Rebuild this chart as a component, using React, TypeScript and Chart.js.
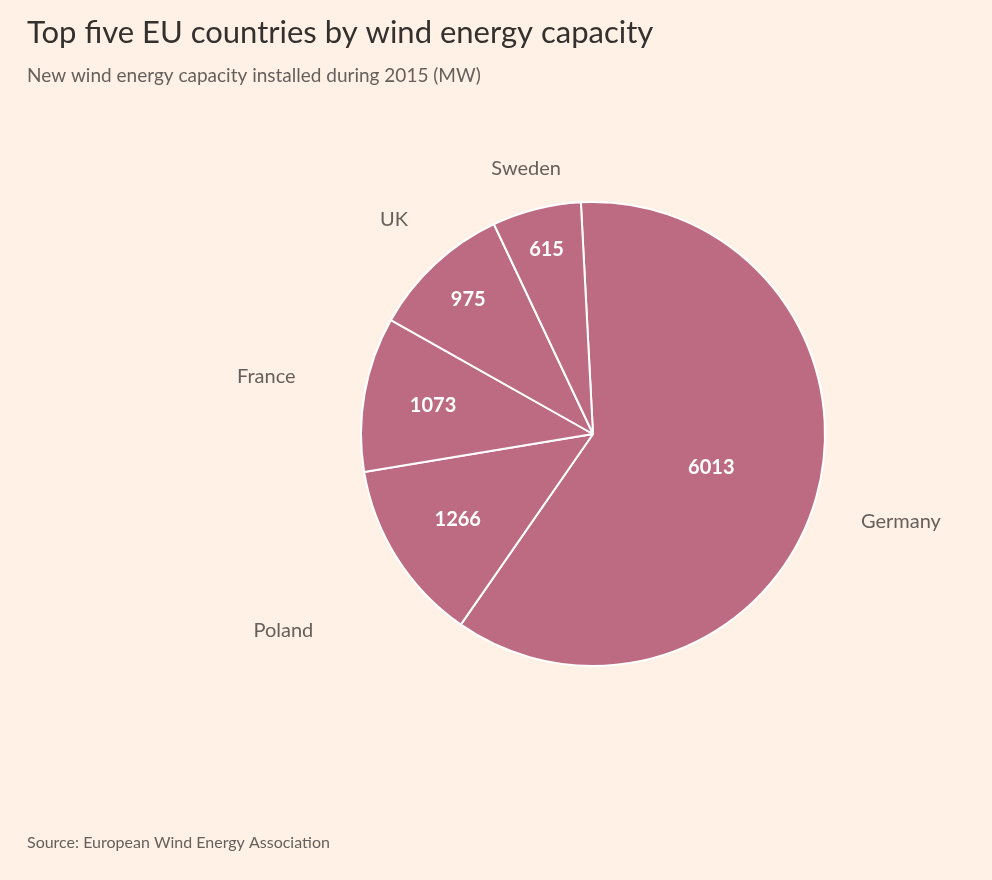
import React, { useEffect, useRef } from "react";
import { Chart, registerables } from "chart.js";
Chart.register(...registerables);

const countries = ["Germany", "Poland", "France", "UK", "Sweden"];
const capacity = [6013, 1266, 1073, 975, 615];

const innerR = [0.53, 0.69, 0.7, 0.79, 0.82];
const outerR = [1.38, 1.58, 1.43, 1.26, 1.18];

const textPlugin = {
  id: "texts",
  afterDraw(chart: any) {
    const ctx = chart.ctx;
    const meta = chart.getDatasetMeta(0);
    ctx.save();
    ctx.textAlign = "left";
    ctx.textBaseline = "middle";
    ctx.fillStyle = "#33302e";
    ctx.font = "31px Lato, 'Open Sans', sans-serif";
    ctx.fillText("Top five EU countries by wind energy capacity", 27, 33);
    ctx.fillStyle = "#66605c";
    ctx.font = "19px Lato, 'Open Sans', sans-serif";
    ctx.fillText("New wind energy capacity installed during 2015 (MW)", 27, 76);
    ctx.font = "16px Lato, 'Open Sans', sans-serif";
    ctx.fillText("Source: European Wind Energy Association", 27, 843);
    ctx.textAlign = "center";
    meta.data.forEach((arc: any, i: number) => {
      const mid = (arc.startAngle + arc.endAngle) / 2;
      const r = arc.outerRadius;
      ctx.fillStyle = "#ffffff";
      ctx.font = "bold 20px Lato, 'Open Sans', sans-serif";
      ctx.fillText(String(capacity[i]), arc.x + Math.cos(mid) * r * innerR[i], arc.y + Math.sin(mid) * r * innerR[i]);
      ctx.fillStyle = "#66605c";
      ctx.font = "20px Lato, 'Open Sans', sans-serif";
      ctx.fillText(countries[i], arc.x + Math.cos(mid) * r * outerR[i], arc.y + Math.sin(mid) * r * outerR[i]);
    });
    ctx.restore();
  },
};

export default function App() {
  const ref = useRef<HTMLCanvasElement>(null);
  useEffect(() => {
    document.body.style.margin = "0";
    document.body.style.background = "#fff1e5";
    const chart = new Chart(ref.current!, {
      type: "pie",
      data: {
        labels: countries,
        datasets: [{ data: capacity, backgroundColor: "#bc6b82", borderColor: "#ffffff", borderWidth: 2 }],
      },
      options: {
        animation: false,
        responsive: false,
        rotation: -3,
        layout: { padding: { left: 360, right: 166, top: 201, bottom: 213 } },
        plugins: { legend: { display: false }, tooltip: { enabled: false } },
      },
      plugins: [textPlugin],
    });
    return () => chart.destroy();
  }, []);
  return (
    <div style={{ width: 992, height: 880, background: "#fff1e5" }}>
      <canvas ref={ref} width={992} height={880} style={{ display: "block" }} />
    </div>
  );
}
